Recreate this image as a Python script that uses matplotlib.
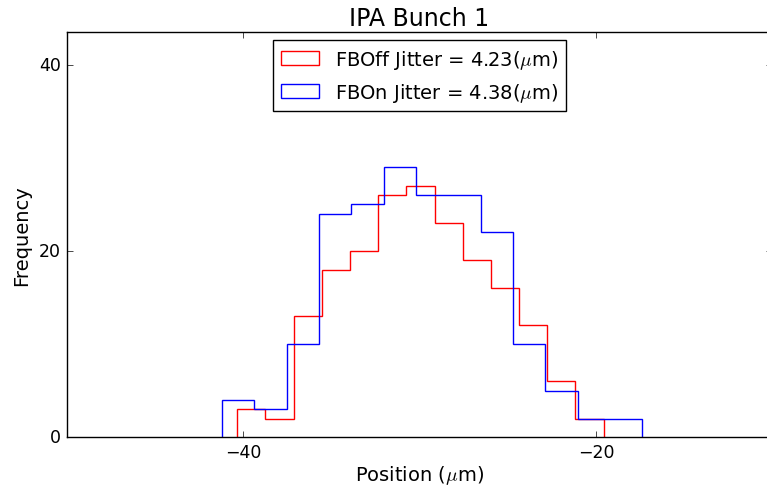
import numpy as np
import matplotlib
matplotlib.use("Agg")
import matplotlib.pyplot as plt

# bin edges and counts
fboff_edges = [-40.34, -38.74, -37.14, -35.55, -33.95, -32.35, -30.75,
               -29.15, -27.56, -25.96, -24.36, -22.76, -21.16, -19.57]
fboff_counts = [3, 2, 13, 18, 20, 26, 27, 23, 19, 16, 12, 6, 2]

fbon_edges = [-41.19, -39.36, -37.53, -35.69, -33.86, -32.03, -30.20,
              -28.37, -26.53, -24.70, -22.87, -21.04, -19.21, -17.37]
fbon_counts = [4, 3, 10, 24, 25, 29, 26, 26, 22, 10, 5, 2, 2]

labels = [r"FBOff Jitter = 4.23($\mu$m)", r"FBOn Jitter = 4.38($\mu$m)"]

plt.style.use("classic")
plt.rcParams["figure.facecolor"] = "white"
plt.rcParams["savefig.facecolor"] = "white"
plt.rcParams["font.family"] = "DejaVu Sans"

fig = plt.figure(figsize=(7.67, 4.89), dpi=100)
ax = fig.add_axes([0.087, 0.104, 0.92, 0.828])

ax.hist(fboff_edges[:-1], bins=fboff_edges, weights=fboff_counts,
        histtype="step", color="red", label=labels[0])
ax.hist(fbon_edges[:-1], bins=fbon_edges, weights=fbon_counts,
        histtype="step", color="blue", label=labels[1])

ax.set_xlim(-50, -10)
ax.set_ylim(0, 43.5)
ax.set_xticks([-40, -20])
ax.set_yticks([0, 20, 40])
ax.tick_params(labelsize=12.5)
ax.set_xlabel(r"Position ($\mu$m)", fontsize=14, labelpad=2)
ax.set_ylabel("Frequency", fontsize=14, labelpad=6)
ax.set_title("IPA Bunch 1", fontsize=17, pad=5)
ax.legend(loc="upper center", bbox_to_anchor=(0.50, 1.0), fontsize=14,
          borderaxespad=0.4)

fig.savefig("out.png", dpi=100)
